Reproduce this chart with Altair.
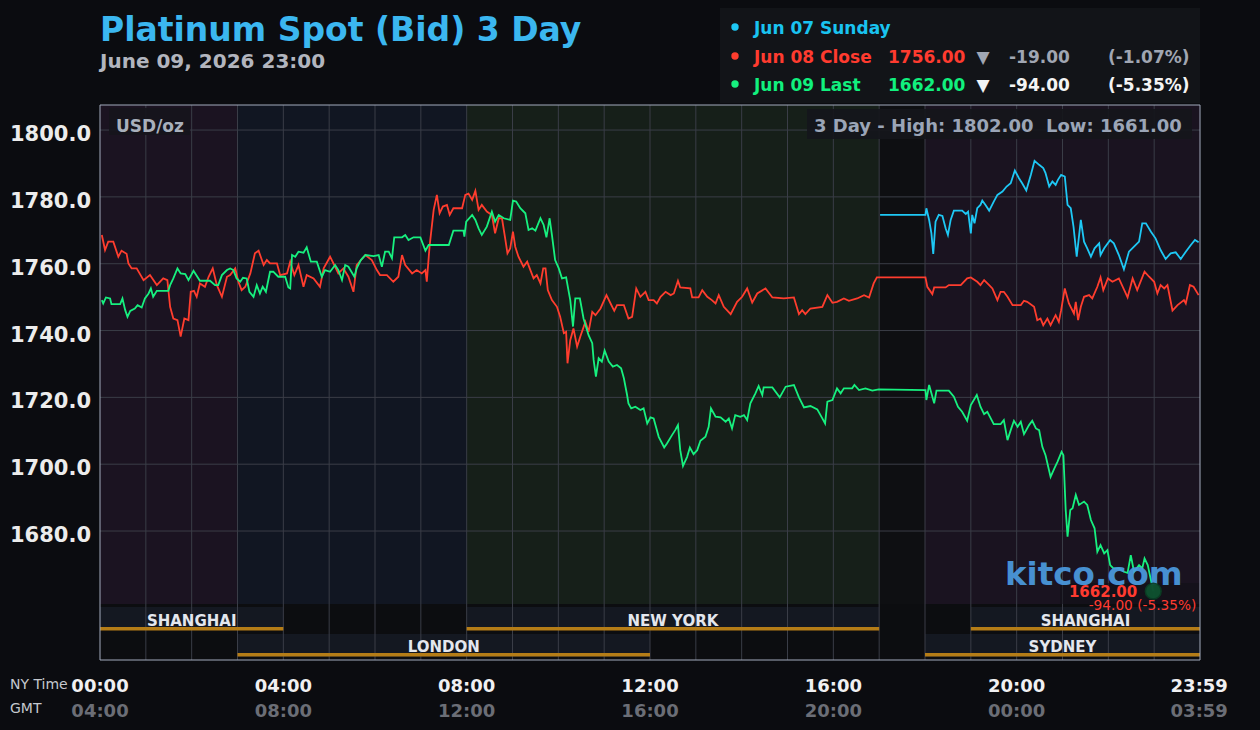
import altair as alt
import pandas as pd

FONT = "DejaVu Sans"

# ---------------- data ----------------
sun_h = [17.02, 18.01, 18.03, 18.09, 18.14, 18.18, 18.23, 18.30, 18.38, 18.45, 18.50, 18.56, 18.63, 18.81,
         18.89, 18.94, 19.00, 19.03, 19.08, 19.14, 19.21, 19.25, 19.32, 19.40, 19.50, 19.58, 19.69, 19.78,
         19.87, 19.96, 20.05, 20.12, 20.21, 20.31, 20.39, 20.49, 20.58, 20.63, 20.71, 20.78, 20.85, 20.90,
         20.97, 21.05, 21.11, 21.18, 21.24, 21.31, 21.40, 21.47, 21.54, 21.62, 21.70, 21.80, 21.83, 21.91,
         22.04, 22.12, 22.23, 22.34, 22.45, 22.56, 22.67, 22.74, 22.82, 22.93, 23.03, 23.14, 23.25, 23.36,
         23.47, 23.58, 23.69, 23.80, 23.89, 23.97]
sun_p = [1774.6, 1774.6, 1776.6, 1773.1, 1769.1, 1762.9, 1772.6, 1774.6, 1774.3, 1770.6, 1768.6, 1773.1,
         1775.9, 1775.9, 1774.9, 1775.6, 1769.1, 1774.6, 1772.1, 1776.6, 1777.6, 1778.9, 1777.6, 1775.9,
         1778.6, 1780.6, 1781.6, 1783.1, 1784.1, 1787.9, 1785.6, 1784.1, 1781.9, 1786.6, 1790.8, 1789.6,
         1788.6, 1787.1, 1783.1, 1784.6, 1783.6, 1785.1, 1786.6, 1786.1, 1777.6, 1776.6, 1771.1, 1762.1,
         1773.1, 1766.6, 1764.6, 1762.1, 1764.6, 1766.1, 1762.6, 1764.6, 1767.1, 1766.1, 1762.6, 1758.3,
         1763.6, 1765.1, 1766.6, 1772.1, 1772.1, 1769.6, 1767.6, 1764.1, 1761.4, 1763.1, 1763.4, 1761.4,
         1763.6, 1765.6, 1767.1, 1766.4]

close_h = [0.04, 0.11, 0.18, 0.29, 0.40, 0.47, 0.58, 0.62, 0.69, 0.80, 0.95, 1.09, 1.24, 1.38, 1.47, 1.53,
           1.60, 1.69, 1.76, 1.84, 1.93, 1.98, 2.05, 2.11, 2.18, 2.29, 2.37, 2.46, 2.55, 2.66, 2.77, 2.84,
           2.95, 3.02, 3.09, 3.17, 3.28, 3.38, 3.46, 3.57, 3.64, 3.71, 3.86, 3.93, 4.08, 4.15, 4.24, 4.33,
           4.44, 4.51, 4.66, 4.80, 4.88, 5.02, 5.13, 5.20, 5.31, 5.42, 5.53, 5.60, 5.79, 5.93, 6.04, 6.11,
           6.26, 6.40, 6.51, 6.59, 6.66, 6.81, 6.91, 7.02, 7.10, 7.13, 7.19, 7.28, 7.35, 7.41, 7.48, 7.57,
           7.63, 7.71, 7.90, 7.97, 8.04, 8.12, 8.19, 8.26, 8.33, 8.44, 8.55, 8.62, 8.70, 8.77, 8.84, 8.89,
           8.95, 9.01, 9.06, 9.13, 9.24, 9.32, 9.39, 9.46, 9.53, 9.61, 9.67, 9.72, 9.77, 9.86, 9.97, 10.04,
           10.12, 10.17, 10.20, 10.26, 10.33, 10.41, 10.48, 10.59, 10.66, 10.74, 10.81, 10.92, 11.05, 11.14,
           11.22, 11.28, 11.43, 11.53, 11.61, 11.70, 11.79, 11.90, 11.97, 12.08, 12.15, 12.23, 12.34, 12.45,
           12.52, 12.61, 12.66, 12.88, 12.92, 13.06, 13.14, 13.25, 13.35, 13.43, 13.50, 13.61, 13.76, 13.90,
           14.01, 14.12, 14.23, 14.34, 14.52, 14.67, 14.92, 15.14, 15.25, 15.32, 15.39, 15.50, 15.76, 15.87,
           15.98, 16.08, 16.23, 16.34, 16.52, 16.67, 16.78, 16.88, 16.95, 18.01, 18.05, 18.16, 18.20, 18.45,
           18.52, 18.78, 18.92, 19.00, 19.14, 19.21, 19.29, 19.40, 19.47, 19.58, 19.65, 19.72, 19.80, 19.91,
           20.09, 20.16, 20.23, 20.38, 20.45, 20.52, 20.58, 20.67, 20.74, 20.85, 20.92, 20.97, 21.05, 21.14,
           21.25, 21.29, 21.34, 21.40, 21.47, 21.58, 21.65, 21.76, 21.83, 21.89, 21.99, 22.09, 22.23, 22.42,
           22.53, 22.63, 22.79, 22.89, 23.00, 23.07, 23.14, 23.22, 23.29, 23.40, 23.51, 23.65, 23.69, 23.78,
           23.86, 23.97]
close_p = [1768.6, 1764.1, 1766.6, 1766.6, 1762.1, 1763.9, 1763.0, 1760.1, 1758.6, 1758.6, 1755.1, 1756.6,
           1753.6, 1755.6, 1755.1, 1747.1, 1743.6, 1743.1, 1738.2, 1743.6, 1743.1, 1751.6, 1751.9, 1750.1,
           1754.1, 1753.1, 1756.1, 1758.6, 1753.6, 1750.1, 1756.1, 1756.6, 1758.6, 1754.6, 1752.1, 1753.1,
           1757.1, 1763.1, 1763.9, 1759.6, 1761.1, 1760.1, 1760.1, 1756.6, 1757.1, 1760.6, 1756.6, 1759.6,
           1753.1, 1756.6, 1755.6, 1753.1, 1758.6, 1762.1, 1759.1, 1757.1, 1758.6, 1756.1, 1751.6, 1759.6,
           1762.6, 1761.1, 1758.1, 1756.6, 1756.6, 1754.6, 1756.1, 1762.6, 1759.6, 1757.1, 1758.1, 1757.1,
           1758.1, 1754.6, 1765.1, 1776.1, 1780.6, 1775.1, 1777.1, 1777.6, 1774.6, 1776.6, 1776.6, 1780.6,
           1781.0, 1779.1, 1781.8, 1776.1, 1777.6, 1775.6, 1774.6, 1769.1, 1773.6, 1773.6, 1767.6, 1763.1,
           1764.6, 1769.6, 1765.1, 1762.1, 1759.1, 1760.6, 1758.1, 1755.6, 1756.6, 1754.1, 1758.6, 1758.6,
           1752.1, 1749.1, 1747.1, 1744.1, 1739.2, 1739.6, 1730.2, 1737.1, 1740.6, 1735.2, 1738.2, 1742.6,
           1739.6, 1745.6, 1744.6, 1746.6, 1750.6, 1748.1, 1745.9, 1747.6, 1747.6, 1743.6, 1744.1, 1752.6,
           1750.1, 1751.6, 1749.1, 1749.1, 1748.1, 1750.1, 1751.6, 1750.6, 1751.1, 1754.9, 1752.9, 1752.6,
           1749.9, 1749.9, 1752.1, 1750.1, 1749.1, 1748.1, 1750.6, 1747.1, 1744.9, 1748.6, 1750.1, 1752.6,
           1748.4, 1751.1, 1752.6, 1749.9, 1749.6, 1749.9, 1744.9, 1746.1, 1744.9, 1746.6, 1747.1, 1750.6,
           1748.3, 1748.6, 1749.6, 1748.9, 1749.6, 1750.6, 1749.9, 1754.1, 1755.9, 1755.9, 1753.1, 1750.9,
           1752.9, 1752.9, 1753.6, 1753.6, 1755.6, 1755.9, 1754.6, 1753.6, 1755.1, 1753.6, 1752.6, 1749.1,
           1751.6, 1751.6, 1750.1, 1747.6, 1747.6, 1748.9, 1748.6, 1747.1, 1743.1, 1743.6, 1741.6, 1743.6,
           1741.6, 1744.6, 1742.6, 1746.1, 1752.6, 1748.1, 1745.1, 1748.6, 1743.1, 1747.1, 1750.1, 1750.6,
           1749.6, 1753.1, 1755.9, 1752.1, 1755.6, 1754.6, 1755.6, 1749.9, 1755.6, 1752.1, 1757.6, 1756.1,
           1754.6, 1751.1, 1753.6, 1752.6, 1753.6, 1746.0, 1747.6, 1749.1, 1748.1, 1753.6, 1753.1, 1750.6]

last_h = [0.04, 0.07, 0.13, 0.22, 0.25, 0.44, 0.49, 0.55, 0.60, 0.66, 0.76, 0.82, 0.91, 0.98, 1.06, 1.11,
          1.16, 1.24, 1.49, 1.53, 1.60, 1.69, 1.76, 1.86, 1.93, 2.04, 2.18, 2.40, 2.51, 2.58, 2.66, 2.77,
          2.84, 2.91, 2.98, 3.06, 3.12, 3.20, 3.26, 3.35, 3.42, 3.49, 3.55, 3.62, 3.71, 3.78, 3.89, 4.04,
          4.11, 4.15, 4.19, 4.26, 4.33, 4.44, 4.51, 4.60, 4.73, 4.84, 4.91, 5.02, 5.13, 5.20, 5.28, 5.35,
          5.42, 5.55, 5.60, 5.69, 5.79, 5.97, 6.08, 6.15, 6.22, 6.30, 6.37, 6.42, 6.59, 6.66, 6.73, 6.84,
          6.99, 7.10, 7.17, 7.61, 7.71, 7.93, 7.95, 7.99, 8.12, 8.19, 8.26, 8.33, 8.44, 8.55, 8.62, 8.70,
          8.81, 8.95, 9.01, 9.08, 9.17, 9.28, 9.35, 9.43, 9.50, 9.61, 9.68, 9.74, 9.81, 9.86, 9.93, 10.01,
          10.08, 10.17, 10.26, 10.32, 10.37, 10.47, 10.55, 10.66, 10.74, 10.77, 10.82, 10.88, 10.95, 11.01,
          11.10, 11.19, 11.28, 11.37, 11.43, 11.50, 11.53, 11.59, 11.68, 11.79, 11.86, 11.94, 12.01, 12.08,
          12.19, 12.31, 12.37, 12.48, 12.55, 12.61, 12.66, 12.72, 12.81, 12.87, 12.95, 13.03, 13.10, 13.21,
          13.28, 13.33, 13.43, 13.54, 13.65, 13.72, 13.79, 13.86, 13.97, 14.05, 14.12, 14.19, 14.30, 14.37,
          14.45, 14.48, 14.67, 14.83, 14.96, 15.14, 15.25, 15.36, 15.50, 15.65, 15.76, 15.82, 15.87, 15.98,
          16.08, 16.16, 16.23, 16.41, 16.46, 16.56, 16.70, 16.85, 16.99, 18.01, 18.03, 18.09, 18.14, 18.20,
          18.25, 18.52, 18.63, 18.72, 18.81, 18.92, 19.00, 19.13, 19.21, 19.29, 19.36, 19.50, 19.65, 19.72,
          19.80, 19.87, 19.94, 20.02, 20.09, 20.16, 20.27, 20.34, 20.42, 20.49, 20.56, 20.63, 20.74, 20.82,
          20.89, 20.98, 21.02, 21.07, 21.11, 21.17, 21.22, 21.29, 21.36, 21.47, 21.54, 21.62, 21.70, 21.76,
          21.83, 21.91, 21.98, 22.04, 22.11, 22.23, 22.34, 22.42, 22.49, 22.56, 22.67, 22.74, 22.79, 22.86,
          22.98]
last_p = [1749.1, 1748.1, 1749.9, 1749.6, 1747.9, 1747.9, 1749.6, 1746.1, 1744.1, 1745.9, 1746.6, 1747.6,
          1746.9, 1749.6, 1751.1, 1752.6, 1750.1, 1751.9, 1751.9, 1753.6, 1755.6, 1758.6, 1757.1, 1756.9,
          1755.1, 1757.9, 1754.9, 1754.9, 1753.6, 1753.6, 1756.6, 1758.1, 1758.6, 1758.1, 1755.6, 1754.6,
          1755.8, 1755.6, 1751.6, 1750.1, 1753.6, 1751.1, 1753.1, 1751.6, 1757.6, 1757.6, 1756.1, 1756.1,
          1752.9, 1752.6, 1762.6, 1762.1, 1763.6, 1763.3, 1764.9, 1760.6, 1760.6, 1756.1, 1758.1, 1757.6,
          1759.6, 1758.1, 1755.1, 1759.6, 1759.1, 1756.1, 1758.6, 1761.1, 1762.6, 1762.3, 1762.6, 1759.1,
          1763.6, 1763.6, 1761.6, 1767.9, 1767.9, 1768.6, 1767.1, 1767.9, 1767.9, 1763.9, 1765.6, 1765.6,
          1769.9, 1769.9, 1768.1, 1772.6, 1774.6, 1773.1, 1770.6, 1768.6, 1771.1, 1775.6, 1772.6, 1774.6,
          1773.6, 1773.1, 1778.9, 1778.6, 1776.6, 1775.1, 1770.1, 1770.6, 1769.9, 1773.6, 1771.6, 1767.9,
          1773.6, 1768.6, 1761.1, 1758.6, 1755.6, 1755.9, 1749.1, 1741.2, 1749.6, 1749.6, 1743.6, 1738.6,
          1736.2, 1731.2, 1726.2, 1731.7, 1730.7, 1734.0, 1730.7, 1729.2, 1729.7, 1728.7, 1725.7, 1720.7,
          1718.2, 1716.7, 1717.2, 1716.2, 1716.7, 1712.2, 1714.0, 1713.7, 1708.2, 1705.0, 1706.2, 1708.7,
          1710.2, 1711.7, 1704.2, 1699.5, 1702.2, 1705.0, 1703.0, 1704.2, 1707.0, 1708.2, 1711.2, 1716.7,
          1714.2, 1714.0, 1712.7, 1713.7, 1710.7, 1714.7, 1714.2, 1714.7, 1713.2, 1718.2, 1721.2, 1723.4,
          1720.7, 1723.0, 1723.0, 1720.0, 1723.2, 1723.7, 1720.0, 1717.0, 1717.4, 1716.4, 1713.7, 1712.2,
          1718.7, 1719.2, 1722.7, 1721.2, 1722.7, 1722.7, 1723.7, 1722.2, 1722.7, 1722.0, 1722.4, 1722.2,
          1719.2, 1723.7, 1721.2, 1718.2, 1722.0, 1722.0, 1720.2, 1717.2, 1715.7, 1713.0, 1717.7, 1720.7,
          1717.2, 1715.0, 1715.7, 1712.0, 1712.0, 1713.2, 1707.2, 1710.2, 1713.0, 1711.2, 1712.7, 1709.0,
          1711.7, 1713.0, 1710.7, 1710.2, 1705.2, 1702.7, 1696.2, 1698.7, 1700.7, 1703.7, 1702.7, 1686.3,
          1678.3, 1686.3, 1686.8, 1690.8, 1687.8, 1688.8, 1687.8, 1683.3, 1680.8, 1673.8, 1675.8, 1673.3,
          1674.3, 1669.8, 1668.8, 1668.8, 1667.8, 1667.5, 1672.8, 1667.8, 1669.8, 1668.8, 1671.8, 1669.8,
          1662.0]

# session shading (NY hours)
shade_start = [0, 3, 8, 17, 18]
shade_end = [3, 8, 17, 18, 24]
shade_color = ["#1b1321", "#111622", "#161f19", "#0e0f12", "#1a1320"]

row1_names = ["SHANGHAI", "NEW YORK", "SHANGHAI"]
row1_start = [0, 8, 19]
row1_end = [4, 17, 24]
row2_names = ["LONDON", "SYDNEY"]
row2_start = [3, 18]
row2_end = [12, 24]

price_ticks = [1680, 1700, 1720, 1740, 1760, 1780, 1800]
hour_grid = list(range(1, 24))
tick_hours = [0, 4, 8, 12, 16, 20, 23.983]
ny_labels = ["00:00", "04:00", "08:00", "12:00", "16:00", "20:00", "23:59"]
gmt_labels = ["04:00", "08:00", "12:00", "16:00", "20:00", "00:00", "03:59"]

last_price = [1662.0]
last_change = ["-94.00 (-5.35%)"]

# ---------------- chart ----------------
W, H = 1100, 555
xs = alt.Scale(domain=[0, 24], nice=False, zero=False)
ys = alt.Scale(domain=[1641.4, 1807.5], nice=False, zero=False)
one = pd.DataFrame({"a": [0]})

BLUE = "#1ec8f5"
RED = "#ff3d2e"
GREEN = "#17f07f"


def X(field):
    return alt.X(field, type="quantitative", scale=xs, axis=None)


def Y(field):
    return alt.Y(field, type="quantitative", scale=ys, axis=None)


def txt(t, x, y, size, color, weight="bold", align="left", baseline="alphabetic", opacity=1.0):
    return alt.Chart(one).mark_text(
        text=t, align=align, baseline=baseline, font=FONT, fontSize=size,
        fontWeight=weight, color=color, opacity=opacity
    ).encode(x=alt.value(x), y=alt.value(y))


def box(x, x2, y, y2, fill, opacity=1.0):
    return alt.Chart(one).mark_rect(fill=fill, opacity=opacity).encode(
        x=alt.value(x), x2=alt.value(x2), y=alt.value(y), y2=alt.value(y2))


def legend_dot(y, color):
    return alt.Chart(one).mark_circle(size=55, opacity=1, color=color).encode(
        x=alt.value(635), y=alt.value(y))


shade_df = pd.DataFrame({"s": shade_start, "e": shade_end, "c": shade_color})
shade = alt.Chart(shade_df).mark_rect().encode(
    x=X("s"), x2="e", y=alt.value(0), y2=alt.value(499),
    color=alt.Color("c:N", scale=None))

bottom_bg = box(0, W, 499, H, "#0c0d10")

r1 = pd.DataFrame({"name": row1_names, "s": row1_start, "e": row1_end})
r1["m"] = (r1["s"] + r1["e"]) / 2
r2 = pd.DataFrame({"name": row2_names, "s": row2_start, "e": row2_end})
r2["m"] = (r2["s"] + r2["e"]) / 2

band1 = alt.Chart(r1).mark_rect(color="#141821").encode(x=X("s"), x2="e", y=alt.value(502), y2=alt.value(525))
band2 = alt.Chart(r2).mark_rect(color="#141821").encode(x=X("s"), x2="e", y=alt.value(529), y2=alt.value(552))

vgrid = alt.Chart(pd.DataFrame({"h": hour_grid})).mark_rule(color="#3a3d47", strokeWidth=1).encode(
    x=X("h"), y=alt.value(0), y2=alt.value(H))

tick_df = pd.DataFrame({"p": price_ticks})
tick_df["lbl"] = tick_df["p"].map(lambda v: "%.1f" % v)
hgrid = alt.Chart(tick_df).mark_rule(color="#3a3d47", strokeWidth=1).encode(
    y=Y("p"), x=alt.value(0), x2=alt.value(W))
ylabels = alt.Chart(tick_df).mark_text(
    font=FONT, fontSize=21, fontWeight="bold", color="#ececec", align="right",
    baseline="middle", dy=5).encode(y=Y("p"), x=alt.value(-9), text="lbl:N")

gold1 = alt.Chart(r1).mark_rect(color="#b57d17").encode(x=X("s"), x2="e", y=alt.value(522), y2=alt.value(525.5))
gold2 = alt.Chart(r2).mark_rect(color="#b57d17").encode(x=X("s"), x2="e", y=alt.value(548), y2=alt.value(551.5))

lab1 = alt.Chart(r1).mark_text(font=FONT, fontSize=15, fontWeight="bold", color="#e4e7ee",
                               baseline="alphabetic").encode(x=X("m"), y=alt.value(521), text="name:N")
lab2 = alt.Chart(r2).mark_text(font=FONT, fontSize=15, fontWeight="bold", color="#e4e7ee",
                               baseline="alphabetic").encode(x=X("m"), y=alt.value(547), text="name:N")

blue_line = alt.Chart(pd.DataFrame({"h": sun_h, "p": sun_p})).mark_line(
    color=BLUE, strokeWidth=1.8).encode(x=X("h"), y=Y("p"))
red_line = alt.Chart(pd.DataFrame({"h": close_h, "p": close_p})).mark_line(
    color=RED, strokeWidth=1.8).encode(x=X("h"), y=Y("p"))
green_line = alt.Chart(pd.DataFrame({"h": last_h, "p": last_p})).mark_line(
    color=GREEN, strokeWidth=1.8).encode(x=X("h"), y=Y("p"))

last_df = pd.DataFrame({"h": [last_h[-1]], "p": last_price,
                        "lbl": ["%.2f" % last_price[0]], "chg": last_change})
dot = alt.Chart(last_df).mark_circle(size=250, color="#0e5230", opacity=0.95,
                                     stroke="#0b3d24", strokeWidth=1.5).encode(x=X("h"), y=Y("p"))
last_lbl = alt.Chart(last_df).mark_text(font=FONT, fontSize=15, fontWeight="bold", color="#ff3b30",
                                        align="right", baseline="alphabetic", dx=-16, dy=6).encode(
    x=X("h"), y=Y("p"), text="lbl:N")
last_chg = alt.Chart(last_df).mark_text(font=FONT, fontSize=13.7, color="#ff3b30", align="right",
                                        baseline="alphabetic", dx=43, dy=19).encode(
    x=X("h"), y=Y("p"), text="chg:N")

ticks_df = pd.DataFrame({"h": tick_hours, "ny": ny_labels, "gmt": gmt_labels})
ny_txt = alt.Chart(ticks_df).mark_text(font=FONT, fontSize=18, fontWeight="bold", color="#f0f0f2",
                                       baseline="alphabetic").encode(x=X("h"), y=alt.value(587), text="ny:N")
gmt_txt = alt.Chart(ticks_df).mark_text(font=FONT, fontSize=18, fontWeight="bold", color="#6b6e76",
                                        baseline="alphabetic").encode(x=X("h"), y=alt.value(612), text="gmt:N")

border = alt.Chart(one).mark_rect(filled=False, stroke="#a3abbd", strokeWidth=1).encode(
    x=alt.value(0), x2=alt.value(W), y=alt.value(0), y2=alt.value(H))

layers = [
    shade, bottom_bg, band1, band2, vgrid, hgrid, ylabels, gold1, gold2, lab1, lab2,
    box(9, 90, 3, 30, "#16151c", 0.92),
    txt("USD/oz", 16, 26.5, 17, "#a9b0bc"),
    box(707, 1092, 4, 34, "#15161b", 0.92),
    txt("3 Day - High: 1802.00\u00a0\u00a0Low: 1661.00", 714, 26.5, 18, "#9ba5b7"),
    blue_line, red_line, green_line,
    box(960, 1100, 478, 499, "#111116", 0.55),
    txt("kitco.com", 905, 480, 32.5, "#4b9be0", opacity=0.92),
    dot, last_lbl, last_chg,
    border,
    ny_txt, gmt_txt,
    txt("NY Time", -90, 584, 14, "#c5c8ce", weight="normal"),
    txt("GMT", -90, 608, 14, "#c5c8ce", weight="normal"),
    # title block
    txt("Platinum Spot (Bid) 3 Day", 0, -64, 33, "#3bb7f0"),
    txt("June 09, 2026 23:00", 0, -37.5, 20, "#b2b5be"),
    # legend block
    box(620, 1100, -97, -2, "#121418"),
    legend_dot(-78, BLUE), legend_dot(-49, RED), legend_dot(-21, GREEN),
    txt("Jun 07 Sunday", 654, -71, 17, "#19c3f0"),
    txt("Jun 08 Close", 654, -42.5, 17, "#ff3b2f"),
    txt("1756.00", 788, -42.5, 17, "#ff3b2f"),
    txt("\u25bc", 883, -42.5, 17, "#a0a6b2", align="center"),
    txt("-19.00", 909, -42.5, 17, "#a0a6b2"),
    txt("(-1.07%)", 1008, -42.5, 17, "#a0a6b2"),
    txt("Jun 09 Last", 654, -14.5, 17, "#11f07e"),
    txt("1662.00", 788, -14.5, 17, "#11f07e"),
    txt("\u25bc", 883, -14.5, 17, "#f4f4f4", align="center"),
    txt("-94.00", 909, -14.5, 17, "#f4f4f4"),
    txt("(-5.35%)", 1008, -14.5, 17, "#f4f4f4"),
]

chart = alt.layer(*layers).properties(
    width=W, height=H,
    padding={"left": 100, "top": 105, "right": 60, "bottom": 70},
    autosize=alt.AutoSizeParams(type="none"),
    background="#0b0c10",
).configure_view(stroke=None)

chart.save("out.html", embed_options={"renderer": "svg", "actions": False})
